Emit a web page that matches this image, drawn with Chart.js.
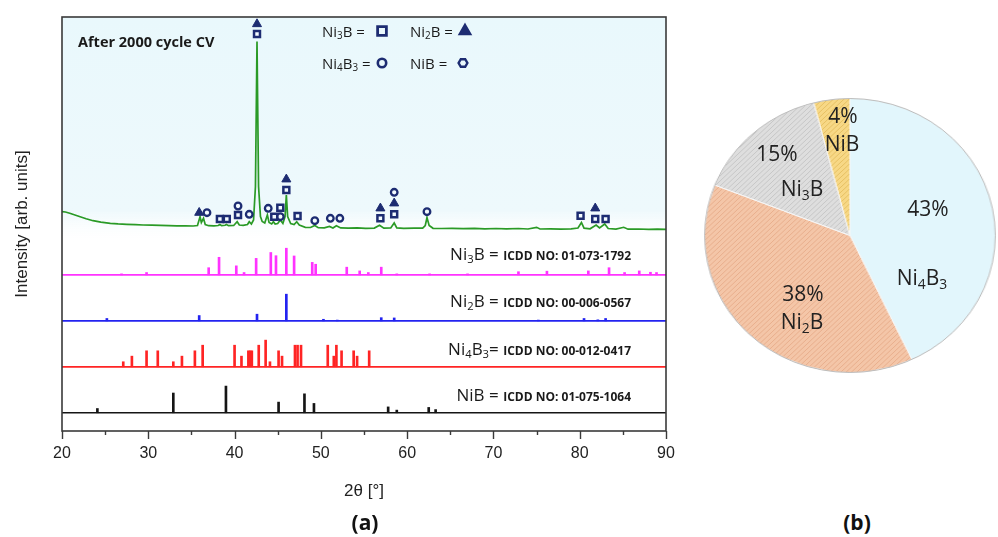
<!DOCTYPE html>
<html>
<head>
<meta charset="utf-8">
<title>XRD after 2000 cycle CV / phase fractions</title>
<script src="https://cdn.jsdelivr.net/npm/chart.js@4.4.1/dist/chart.umd.min.js"></script>
<style>
  html, body { margin: 0; padding: 0; background: #fff; }
  #fig { position: relative; width: 998px; height: 537px; overflow: hidden;
         font-family: 'Open Sans', 'Noto Sans', sans-serif; color: #1a1a1a; }
  #xrdBox { position: absolute; left: 0; top: 0; width: 690px; height: 537px; }
  #pieBox { position: absolute; left: 703px; top: 97px; width: 277px; height: 277px;
            transform: scaleX(1.061); transform-origin: 0 0; }
  .lbl { position: absolute; white-space: nowrap; line-height: 1; }
  .lv { transform: translateY(-50%); }
  .c  { transform: translate(-50%, -50%); }
  .r  { transform: translate(-100%, -50%); }
  sub { font-size: 0.66em; vertical-align: -0.3em; line-height: 0; }
  #cond { font-weight: 700; font-size: 14.5px; }
  .leg { font-size: 15px; }
  .icdd { font-size: 17px; }
  .icdd b { font-size: 12px; }
  .pie { font-size: 21px; color: #222; }
  .panel { font-weight: 700; font-size: 21px; color: #111; }
</style>
</head>
<body>
<div id="fig">
  <div id="xrdBox"><canvas id="xrd"></canvas></div>
  <div id="pieBox"><canvas id="pie"></canvas></div>
  <div class="lbl lv" id="cond" style="left:78px; top:42px">After 2000 cycle CV</div>
  <div class="lbl panel c" style="left:365px; top:522px">(a)</div>
  <div class="lbl panel c" style="left:857px; top:522px">(b)</div>
</div>

<script>
/* ---------- (a) XRD data ---------- */

// measured scan, [2θ, counts]
const SCAN = [
  [20.0, 268], [20.4, 265], [20.9, 252], [21.5, 235], [22.1, 218], [22.8, 198],
  [23.6, 178], [24.5, 164], [25.6, 152], [26.5, 146], [27.5, 142], [28.5, 138],
  [29.4, 135], [30.4, 134], [31.4, 132], [32.4, 129], [33.3, 126], [34.3, 126],
  [35.2, 125], [35.7, 130], [36.0, 218], [36.15, 160], [36.4, 202], [36.6, 140],
  [37.0, 128], [37.6, 126], [38.1, 130], [38.3, 140], [38.5, 128], [38.9, 132],
  [39.05, 140], [39.3, 128], [39.9, 130], [40.3, 168], [40.55, 135], [41.0, 132],
  [41.5, 140], [41.7, 168], [41.95, 145], [42.2, 185], [42.42, 520], [42.6, 1970],
  [42.78, 520], [43.0, 220], [43.2, 170], [43.5, 155], [43.8, 235], [44.0, 160],
  [44.3, 145], [44.5, 168], [44.7, 145], [45.0, 150], [45.3, 185], [45.6, 150],
  [45.85, 220], [46.0, 435], [46.15, 220], [46.5, 150], [46.9, 140], [47.2, 168],
  [47.5, 135], [48.2, 112], [48.8, 110], [49.3, 130], [49.7, 108], [50.4, 106],
  [51.0, 120], [51.4, 105], [51.8, 128], [52.3, 106], [53.2, 103], [54.2, 106],
  [55.2, 102], [56.2, 104], [56.8, 132], [57.3, 103], [58.1, 105], [58.5, 155],
  [58.8, 106], [59.6, 101], [60.8, 103], [61.8, 104], [62.1, 130], [62.3, 210],
  [62.55, 130], [63.0, 102], [64.0, 100], [65.2, 102], [66.5, 98], [67.8, 101],
  [69.0, 97], [70.3, 100], [71.5, 96], [72.9, 100], [74.0, 95], [75.0, 112],
  [75.4, 95], [76.6, 97], [77.8, 93], [79.0, 96], [79.8, 105], [80.2, 160],
  [80.5, 103], [81.2, 97], [81.9, 135], [82.3, 105], [82.9, 145], [83.3, 100],
  [84.2, 94], [85.1, 112], [85.6, 93], [86.8, 95], [88.0, 92], [89.0, 94], [90.0, 92],
];

// reference patterns, [2θ, relative intensity %]
const NI3B_STICKS = [
  [26.9, 4], [29.8, 9], [37.0, 27], [38.2, 66], [40.2, 34], [41.1, 9], [42.5, 62],
  [44.2, 84], [44.8, 72], [46.0, 100], [46.9, 71], [49.0, 47], [49.4, 40], [53.0, 29],
  [54.5, 15], [55.5, 9], [57.0, 29], [58.8, 4], [62.6, 4], [67.0, 4], [72.9, 12],
  [76.2, 14], [81.0, 15], [83.4, 27], [85.2, 9], [86.9, 15], [88.2, 10], [88.9, 9],
];
const NI2B_STICKS = [
  [25.2, 9], [35.9, 20], [42.6, 25], [46.0, 100], [50.3, 6], [51.9, 3], [57.0, 12],
  [58.5, 11], [75.2, 3], [80.5, 9], [82.1, 4], [83.0, 9],
];
const NI4B3_STICKS = [
  [27.1, 19], [28.1, 40], [29.8, 60], [31.1, 60], [32.9, 19], [33.9, 40], [35.4, 60],
  [36.3, 81], [40.0, 81], [40.8, 40], [41.6, 60], [41.8, 60], [42.0, 60], [42.8, 81],
  [43.6, 100], [44.1, 19], [45.1, 60], [45.5, 40], [47.0, 81], [47.3, 81], [47.7, 81],
  [50.8, 81], [51.5, 40], [51.8, 81], [52.4, 60], [53.8, 60], [54.2, 40], [55.6, 60],
];
const NIB_STICKS = [
  [24.1, 16], [32.9, 74], [39.0, 100], [45.1, 40], [48.1, 71], [49.2, 35],
  [57.8, 22], [58.8, 10], [62.5, 20], [63.3, 12],
];

// phase markers above the scan, [2θ, counts level]
const NI3B_MARKS = [
  [38.3, 195], [39.1, 195], [40.4, 235], [42.6, 2045], [44.6, 218], [45.3, 308],
  [46.0, 485], [47.3, 225], [56.9, 202], [58.5, 242], [80.1, 228], [81.8, 195], [83.0, 195],
];
const NI2B_MARKS = [
  [35.9, 258], [42.6, 2145], [46.0, 592], [56.9, 302], [58.5, 352], [81.8, 302],
];
const NI4B3_MARKS = [
  [36.8, 258], [40.4, 325], [41.7, 242], [43.9, 302], [45.3, 218], [49.3, 178],
  [51.1, 202], [52.2, 202], [58.5, 462], [62.3, 268],
];

const PHASES = ['Ni3B', 'Ni2B', 'Ni4B3', 'NiB'];
const ICDD   = ['01-073-1792', '00-006-0567', '00-012-0417', '01-075-1064'];

/* ---------- (b) phase fractions ---------- */
const PIE_LABELS = ['Ni4B3', 'Ni2B', 'Ni3B', 'NiB'];
const PIE_VALUES = [43, 38, 15, 4];

/* ---------- layout / styles ---------- */
const Y_MAX = 100;                                  // stacked panel height, a.u.
const OFFSET = { Ni3B: 37.7, Ni2B: 26.6, Ni4B3: 15.5, NiB: 4.4 };
const STICK_SCALE = 6.45 / 100;                     // 100 % stick height
const SCAN_OFFSET = 46.5, SCAN_SCALE = 0.02415;
const COLORS = { Ni3B: '#ff33ff', Ni2B: '#2323f0', Ni4B3: '#ff2424', NiB: '#151515' };
const NAVY = '#1d2c72';
const SCAN_GREEN = '#2a9a26';

// label anchors (page px)
const ICDD_POS = [[631, 253], [631, 300], [631, 348], [631, 394]];
const PIE_POS = [
  [[928, 208], [922, 277]],
  [[803, 293], [802, 321]],
  [[777, 153], [802, 188]],
  [[843, 115], [842, 143]],
];
const LEGEND = [
  { name: 'Ni3B',  text: [322, 31], mark: [382, 31], style: 'rect' },
  { name: 'Ni2B',  text: [410, 31], mark: [465, 31], style: 'triangle' },
  { name: 'Ni4B3', text: [322, 63], mark: [382, 63], style: 'circle' },
  { name: 'NiB',   text: [410, 63], mark: [463, 63], style: 'hexagon' },
];

/* ---------- text overlays ---------- */
const fig = document.getElementById('fig');
const fm = s => s.replace(/(\d)/g, '<sub>$1</sub>');
function addLabel(html, cls, x, y) {
  const d = document.createElement('div');
  d.className = 'lbl ' + cls;
  d.style.left = x + 'px';
  d.style.top = y + 'px';
  d.innerHTML = html;
  fig.appendChild(d);
}
LEGEND.forEach(l => addLabel(fm(l.name) + ' =', 'leg lv', l.text[0], l.text[1]));
PHASES.forEach((p, i) => {
  const eq = p === 'Ni4B3' ? '= ' : ' = ';
  addLabel(fm(p) + eq + '<b>ICDD NO: ' + ICDD[i] + '</b>', 'icdd r', ICDD_POS[i][0], ICDD_POS[i][1]);
});
PIE_LABELS.forEach((p, i) => {
  addLabel(PIE_VALUES[i] + '%', 'pie c', PIE_POS[i][0][0], PIE_POS[i][0][1]);
  addLabel(fm(p), 'pie c', PIE_POS[i][1][0], PIE_POS[i][1][1]);
});

/* ---------- chart (a) ---------- */
Chart.defaults.font.family = "'Liberation Sans', Arial, sans-serif";
Chart.defaults.color = '#222';

const toScan  = list => list.map(([t, c]) => ({ x: t, y: SCAN_OFFSET + c * SCAN_SCALE }));
const toStick = (list, base) => list.map(([t, i]) => ({ x: t, y: [base, base + i * STICK_SCALE] }));
const toBase  = base => [{ x: 20, y: base }, { x: 90, y: base }];

function hexagon(ctx, x, y, r) {
  ctx.beginPath();
  for (let k = 0; k < 6; k++) {
    const a = Math.PI / 3 * k;
    ctx.lineTo(x + r * Math.cos(a), y + r * Math.sin(a));
  }
  ctx.closePath();
}

const stickSets = PHASES.map(p => ({
  type: 'bar',
  data: toStick({ Ni3B: NI3B_STICKS, Ni2B: NI2B_STICKS, Ni4B3: NI4B3_STICKS, NiB: NIB_STICKS }[p], OFFSET[p]),
  backgroundColor: COLORS[p],
  borderWidth: 0,
  barThickness: 2,
  grouped: false,
  order: 4,
}));
const baseSets = PHASES.map(p => ({
  type: 'line',
  data: toBase(OFFSET[p]),
  borderColor: COLORS[p],
  borderWidth: 1.6,
  pointRadius: 0,
  order: 3,
}));
const markStyle = { pointBorderColor: NAVY, order: 0, type: 'scatter' };

const xrdDeco = {
  id: 'xrdDeco',
  beforeDatasetsDraw(chart) {
    const { ctx, chartArea: a, scales: { y } } = chart;
    const yEnd = y.getPixelForValue(SCAN_OFFSET - 1.5);
    const g = ctx.createLinearGradient(0, a.top, 0, yEnd);
    g.addColorStop(0, '#e9f8fc');
    g.addColorStop(0.85, '#eef9fc');
    g.addColorStop(1, 'rgba(255,255,255,0)');
    ctx.save();
    ctx.fillStyle = g;
    ctx.fillRect(a.left, a.top, a.right - a.left, yEnd - a.top);
    ctx.restore();
  },
  afterDatasetsDraw(chart) {
    const { ctx, chartArea: a, scales: { x } } = chart;
    ctx.save();
    // frame
    ctx.strokeStyle = '#3a3a3a';
    ctx.lineWidth = 1.6;
    ctx.strokeRect(a.left, a.top, a.right - a.left, a.bottom - a.top);
    // major + minor ticks, outward
    ctx.lineWidth = 1.4;
    for (let v = 20; v <= 90; v += 5) {
      const px = Math.round(x.getPixelForValue(v)) + 0.5;
      ctx.beginPath();
      ctx.moveTo(px, a.bottom);
      ctx.lineTo(px, a.bottom + (v % 10 === 0 ? 8 : 4));
      ctx.stroke();
    }
    // legend symbols
    ctx.strokeStyle = NAVY;
    ctx.fillStyle = NAVY;
    LEGEND.forEach(l => {
      const [mx, my] = l.mark;
      if (l.style === 'hexagon') {
        ctx.lineWidth = 2.4;
        hexagon(ctx, mx, my, 4.4);
        ctx.stroke();
      } else if (l.style === 'triangle') {
        Chart.helpers.drawPoint(ctx, { pointStyle: 'triangle', radius: 5.6, borderWidth: 1, rotation: 0 }, mx, my);
      } else {
        ctx.fillStyle = 'rgba(0,0,0,0)';
        ctx.lineWidth = l.style === 'rect' ? 2.8 : 2.6;
        Chart.helpers.drawPoint(ctx, { pointStyle: l.style, radius: l.style === 'rect' ? 6.2 : 4.2, borderWidth: ctx.lineWidth, rotation: 0 }, mx, my);
        ctx.fillStyle = NAVY;
      }
    });
    ctx.restore();
  },
};

new Chart(document.getElementById('xrd'), {
  type: 'scatter',
  data: {
    datasets: [
      { ...markStyle, data: toScan(NI2B_MARKS), pointStyle: 'triangle', pointRadius: 5.2,
        pointBackgroundColor: NAVY, pointBorderWidth: 1 },
      { ...markStyle, data: toScan(NI3B_MARKS), pointStyle: 'rect', pointRadius: 4.2,
        pointBackgroundColor: '#f4fbff', pointBorderWidth: 2.5 },
      { ...markStyle, data: toScan(NI4B3_MARKS), pointStyle: 'circle', pointRadius: 3.3,
        pointBackgroundColor: '#f4fbff', pointBorderWidth: 2.3 },
      { type: 'line', data: toScan(SCAN), borderColor: SCAN_GREEN, borderWidth: 1.7,
        pointRadius: 0, tension: 0, order: 1 },
      ...baseSets,
      ...stickSets,
    ],
  },
  plugins: [xrdDeco],
  options: {
    responsive: true,
    maintainAspectRatio: false,
    animation: false,
    events: [],
    layout: { padding: { top: 17, right: 24, left: 0, bottom: 0 } },
    plugins: { legend: { display: false }, tooltip: { enabled: false } },
    scales: {
      x: {
        type: 'linear', min: 20, max: 90, offset: false,
        grid: { display: false, drawTicks: false, offset: false },
        border: { display: false },
        ticks: { stepSize: 10, padding: 13, font: { size: 16 }, color: '#222' },
        title: { display: true, text: '2θ [°]', font: { size: 17 }, color: '#222',
                 padding: { top: 0, bottom: 35 } },
        afterFit: s => { s.height = 106; s.paddingLeft = 0; s.paddingRight = 0; },
      },
      y: {
        type: 'linear', min: 0, max: Y_MAX,
        grid: { display: false, drawTicks: false },
        border: { display: false },
        ticks: { display: false },
        title: { display: true, text: 'Intensity [arb. units]', font: { size: 17 }, color: '#222',
                 padding: { top: 12, bottom: 0 } },
        afterFit: s => { s.width = 62; },
      },
    },
  },
});

/* ---------- chart (b) ---------- */
function hatch(bg, line) {
  const c = document.createElement('canvas');
  c.width = c.height = 5;
  const g = c.getContext('2d');
  g.fillStyle = bg;
  g.fillRect(0, 0, 5, 5);
  g.strokeStyle = line;
  g.lineWidth = 0.8;
  g.beginPath();
  g.moveTo(-1, 6); g.lineTo(6, -1);
  g.stroke();
  return g.createPattern(c, 'repeat');
}

const pieOutline = {
  id: 'pieOutline',
  afterDatasetsDraw(chart) {
    const arc = chart.getDatasetMeta(0).data[0];
    if (!arc) return;
    const { ctx } = chart;
    ctx.save();
    ctx.strokeStyle = 'rgba(140,140,140,0.55)';
    ctx.lineWidth = 1;
    ctx.beginPath();
    ctx.arc(arc.x, arc.y, arc.outerRadius, 0, Math.PI * 2);
    ctx.stroke();
    ctx.restore();
  },
};

new Chart(document.getElementById('pie'), {
  type: 'pie',
  data: {
    labels: PIE_LABELS,
    datasets: [{
      data: PIE_VALUES,
      backgroundColor: [
        '#e2f6fc',
        hatch('#f4c6a8', '#e6aa86'),
        hatch('#dedede', '#c2c2c2'),
        hatch('#f7d886', '#e2bb5a'),
      ],
      borderColor: '#f7f7f7',
      borderWidth: 1,
    }],
  },
  plugins: [pieOutline],
  options: {
    responsive: true,
    maintainAspectRatio: false,
    animation: false,
    events: [],
    layout: { padding: 1 },
    plugins: { legend: { display: false }, tooltip: { enabled: false } },
  },
});
</script>
</body>
</html>
